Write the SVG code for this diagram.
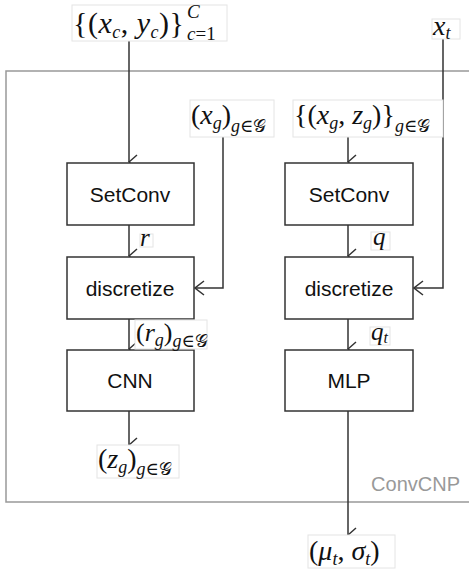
<svg xmlns="http://www.w3.org/2000/svg" width="469" height="572" viewBox="0 0 469 572">
<style>
.box{fill:#fff;stroke:#333;stroke-width:1.5}
.lbl{font-family:"Liberation Sans",Arial,sans-serif;font-size:21px;fill:#111;text-anchor:middle}
.m{font-family:"Liberation Serif","DejaVu Serif",serif;font-size:28px;fill:#111}
.i{font-style:italic}
.s{font-size:18px}
.lb{fill:#fff;stroke:#e4e4e4;stroke-width:1}
.c{fill:none;stroke:#333;stroke-width:1.5}
</style>
<defs>
<marker id="ah" viewBox="0 0 16 12" refX="8" refY="11" markerWidth="16" markerHeight="12" markerUnits="userSpaceOnUse" orient="auto-start-reverse">
<path d="M1,3 L8,11 L15,3" fill="none" stroke="#333" stroke-width="1.5"/>
</marker>
<marker id="al" viewBox="0 0 12 16" refX="1" refY="8" markerWidth="12" markerHeight="16" markerUnits="userSpaceOnUse">
<path d="M10,1 L1,8 L10,15" fill="none" stroke="#333" stroke-width="1.5"/>
</marker>
</defs>
<rect id="frame" x="6" y="71" width="470" height="431" fill="none" stroke="#999" stroke-width="1.5"/>
<text x="460" y="491" font-family="'Liberation Sans',Arial,sans-serif" font-size="20" fill="#999" text-anchor="end">ConvCNP</text>
<g id="connectors">
<line class="c" x1="129" y1="41" x2="129" y2="162" marker-end="url(#ah)"/>
<line class="c" x1="129" y1="225" x2="129" y2="256" marker-end="url(#ah)"/>
<line class="c" x1="129" y1="319" x2="129" y2="349" marker-end="url(#ah)"/>
<line class="c" x1="129" y1="411" x2="129" y2="445" marker-end="url(#ah)"/>
<path class="c" d="M223,137 V288 H195" marker-end="url(#al)"/>
<line class="c" x1="348" y1="137" x2="348" y2="162" marker-end="url(#ah)"/>
<line class="c" x1="348" y1="225" x2="348" y2="256" marker-end="url(#ah)"/>
<line class="c" x1="348" y1="319" x2="348" y2="349" marker-end="url(#ah)"/>
<line class="c" x1="348" y1="411" x2="348" y2="535" marker-end="url(#ah)"/>
<path class="c" d="M443,39 V288 H414" marker-end="url(#al)"/>
</g>
<g id="setconv1"><rect class="box" x="67" y="163" width="127" height="62"/><text class="lbl" x="130" y="202">SetConv</text></g>
<g id="discretize1"><rect class="box" x="67" y="257" width="127" height="62"/><text class="lbl" x="130" y="296">discretize</text></g>
<g id="cnn"><rect class="box" x="67" y="350" width="127" height="61"/><text class="lbl" x="130" y="388">CNN</text></g>
<g id="setconv2"><rect class="box" x="285" y="163" width="128" height="62"/><text class="lbl" x="349" y="202">SetConv</text></g>
<g id="discretize2"><rect class="box" x="285" y="257" width="128" height="62"/><text class="lbl" x="349" y="296">discretize</text></g>
<g id="mlp"><rect class="box" x="285" y="350" width="128" height="61"/><text class="lbl" x="349" y="388">MLP</text></g>
<g id="context">
<rect class="lb" x="72" y="5" width="155" height="36"/>
<text class="m" x="73" y="33" style="font-size:30px;letter-spacing:0.5px">{(<tspan class="i">x</tspan><tspan class="s i" dy="5">c</tspan><tspan dy="-5">, </tspan><tspan class="i">y</tspan><tspan class="s i" dy="5">c</tspan><tspan dy="-5">)}</tspan></text>
<text class="m i" x="187" y="18" style="font-size:19px">C</text>
<text class="m" x="187" y="40" style="font-size:19px"><tspan class="i">c</tspan>=1</text>
</g>
<g id="xt">
<rect class="lb" x="432" y="19" width="28" height="20"/>
<text class="m i" x="433" y="35">x<tspan class="s" dy="4">t</tspan></text>
</g>
<g id="xg">
<rect class="lb" x="190" y="100" width="84" height="37"/>
<text class="m" x="191" y="124">(<tspan class="i">x</tspan><tspan class="s i" dy="5">g</tspan><tspan dy="-5">)</tspan><tspan class="s i" dy="8">g</tspan><tspan class="s">∈𝒢</tspan></text>
</g>
<g id="xgzg">
<rect class="lb" x="293" y="100" width="150" height="37"/>
<text class="m" x="294" y="124">{(<tspan class="i">x</tspan><tspan class="s i" dy="5">g</tspan><tspan dy="-5">, </tspan><tspan class="i">z</tspan><tspan class="s i" dy="5">g</tspan><tspan dy="-5">)}</tspan><tspan class="s i" dy="8">g</tspan><tspan class="s">∈𝒢</tspan></text>
</g>
<g id="r"><rect class="lb" x="140" y="234" width="13" height="13"/><text class="m i" x="140" y="246" style="font-size:25px">r</text></g>
<g id="q"><rect class="lb" x="371" y="232" width="19" height="18"/><text class="m i" x="373" y="245" style="font-size:25px">q</text></g>
<g id="rg">
<rect class="lb" x="135" y="320" width="72" height="29"/>
<text class="m" x="136" y="341" style="font-size:26px">(<tspan class="i">r</tspan><tspan class="s i" dy="5">g</tspan><tspan dy="-5">)</tspan><tspan class="s i" dy="6">g</tspan><tspan class="s">∈𝒢</tspan></text>
</g>
<g id="qt"><rect class="lb" x="370" y="327" width="20" height="18"/><text class="m i" x="371" y="340" style="font-size:25px">q<tspan style="font-size:16px" dy="3">t</tspan></text></g>
<g id="zg">
<rect class="lb" x="97" y="445" width="82" height="33"/>
<text class="m" x="98" y="468">(<tspan class="i">z</tspan><tspan class="s i" dy="5">g</tspan><tspan dy="-5">)</tspan><tspan class="s i" dy="7">g</tspan><tspan class="s">∈𝒢</tspan></text>
</g>
<g id="musigma">
<rect class="lb" x="308" y="535" width="87" height="33"/>
<text class="m" x="309" y="560">(<tspan class="i">μ</tspan><tspan class="s i" dy="5">t</tspan><tspan dy="-5">, </tspan><tspan class="i">σ</tspan><tspan class="s i" dy="5">t</tspan><tspan dy="-5">)</tspan></text>
</g>
</svg>
